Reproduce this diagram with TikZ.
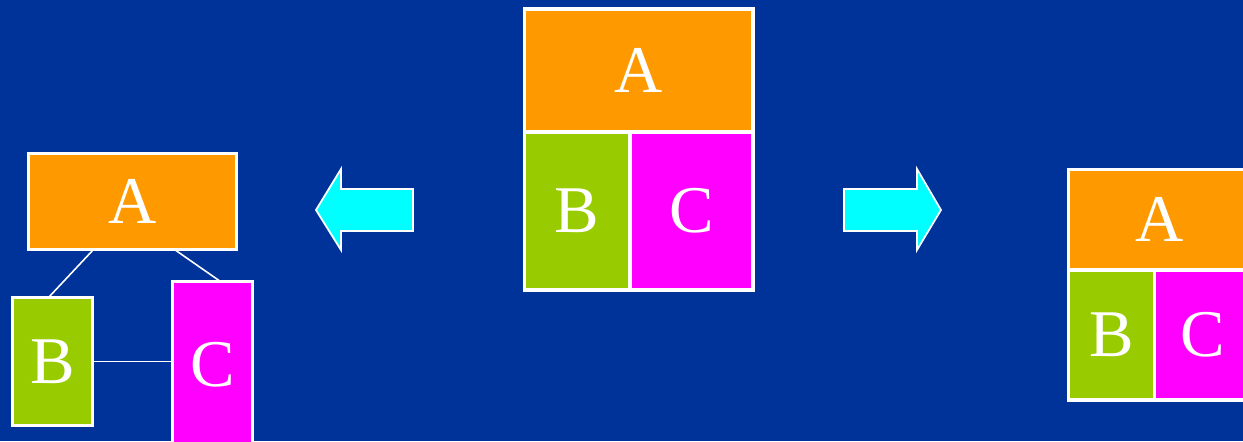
\documentclass[tikz,border=0pt]{standalone}
\usepackage{fontspec}
\setmainfont{Liberation Serif}
\usepackage{tikz}
\usetikzlibrary{calc}

\definecolor{slideblue}{RGB}{0,51,153}
\definecolor{boxorange}{RGB}{255,153,0}
\definecolor{boxgreen}{RGB}{153,204,0}
\definecolor{boxmagenta}{RGB}{255,0,255}
\definecolor{arrowcyan}{RGB}{0,255,255}

\begin{document}
\begin{tikzpicture}[
  x=0.02cm, y=-0.02cm,
  part/.style={draw=white,line width=1.9pt,text=white,outer sep=0pt,inner sep=0pt,
    font=\fontsize{38}{40}\selectfont},
  partA/.style={part,fill=boxorange},
  partB/.style={part,fill=boxgreen},
  partC/.style={part,fill=boxmagenta},
  link/.style={white,line width=0.9pt},
  bigarrow/.style={fill=arrowcyan,draw=white,line width=1pt,line join=miter}
]
  \fill[slideblue] (0,0) rectangle (1243,441);
  \useasboundingbox (0,0) rectangle (1243,441);
  \clip (0,0) rectangle (1243,441);

  % tree on the left
  \node[partA,minimum width=4.16cm,minimum height=1.92cm] (lA) at (132.5,201.5) {A};
  \node[partB,minimum width=1.6cm,minimum height=2.56cm] (lB) at (52.5,361.5) {B};
  \node[partC,minimum width=1.6cm,minimum height=3.34cm] (lC) at (212.5,365) {C};
  \draw[link] ([xshift=1.3cm]lA.south west) -- ([xshift=0.72cm]lB.north west);
  \draw[link] ([xshift=2.92cm]lA.south west) -- ([xshift=0.96cm]lC.north west);
  \draw[link] (lB.east) -- (lB.east -| lC.west);

  % stacked layout in the middle
  \node[partA,minimum width=4.57cm,minimum height=2.46cm] (mA) at (638.75,70.5) {A};
  \node[partB,minimum width=2.11cm,minimum height=3.16cm] (mB) at (577.25,211) {B};
  \node[partC,minimum width=2.46cm,minimum height=3.16cm] (mC) at (691.5,211) {C};

  % stacked layout on the right
  \node[partA,minimum width=3.66cm,minimum height=2.01cm] (rA) at (1160,219.75) {A};
  \node[partB,minimum width=1.72cm,minimum height=2.6cm] (rB) at (1111.5,335) {B};
  \node[partC,minimum width=1.94cm,minimum height=2.6cm] (rC) at (1203,335) {C};

  % arrows
  \draw[bigarrow] (316,210) -- (341,169) -- (341,189) -- (413,189)
    -- (413,231) -- (341,231) -- (341,250) -- cycle;
  \draw[bigarrow] (941,210) -- (917,169) -- (917,189) -- (844,189)
    -- (844,231) -- (917,231) -- (917,250) -- cycle;
\end{tikzpicture}
\end{document}
